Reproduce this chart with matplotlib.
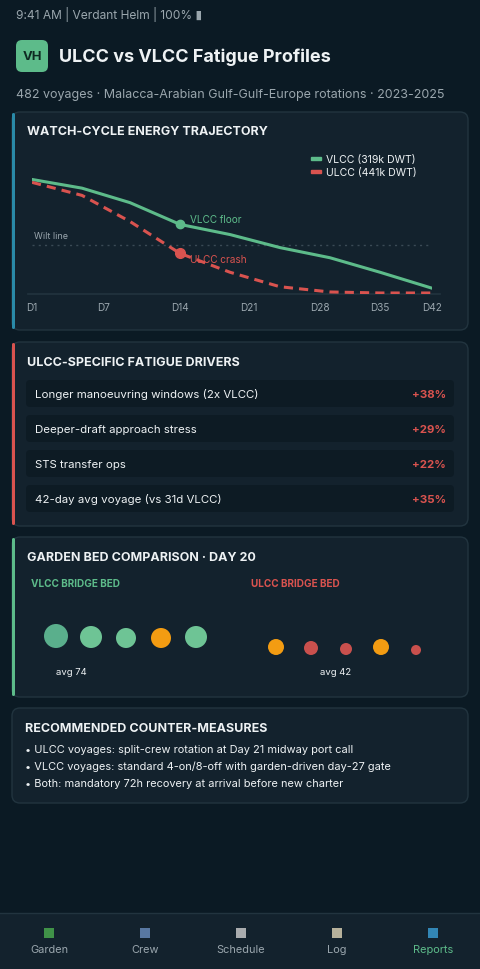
import matplotlib
matplotlib.use("Agg")
import matplotlib.pyplot as plt
from matplotlib.patches import FancyBboxPatch, Rectangle, Circle

plt.rcParams['font.family'] = ['Inter', 'DejaVu Sans']

# ---- data ----
tick_pos = [0, 72, 148, 217, 288, 348, 400]
tick_labels = ["D1", "D7", "D14", "D21", "D28", "D35", "D42"]
x_pts = [0, 50, 98, 148, 198, 248, 298, 348, 400]
vlcc = [79, 73, 63, 48, 41, 32, 25, 15, 4]
ulcc = [77, 68, 50, 28, 15, 5, 1.4, 0.7, 0.7]
wilt_level = 34
drivers = ["Longer manoeuvring windows (2x VLCC)", "Deeper-draft approach stress",
           "STS transfer ops", "42-day avg voyage (vs 31d VLCC)"]
driver_vals = ["+38%", "+29%", "+22%", "+35%"]
vlcc_bed_sizes = [12, 11, 10, 10, 11]
vlcc_bed_colors = ["#5aaf8c", "#6ec495", "#6ec495", "#f39c12", "#6ec495"]
ulcc_bed_sizes = [8, 7, 6, 8, 5]
ulcc_bed_colors = ["#f39c12", "#c9504d", "#c9504d", "#f39c12", "#c9504d"]
measures = ["• ULCC voyages: split-crew rotation at Day 21 midway port call",
            "• VLCC voyages: standard 4-on/8-off with garden-driven day-27 gate",
            "• Both: mandatory 72h recovery at arrival before new charter"]
nav = ["Garden", "Crew", "Schedule", "Log", "Reports"]

BG = "#0b1a24"; CARD = "#13222d"; EDGE = "#22343f"
GREEN = "#5dbb8a"; RED = "#d9534f"; WHITE = "#eef2f4"; GREY = "#9aa6ad"

W, H = 480, 970
fig = plt.figure(figsize=(4.8, 9.7), dpi=100, facecolor=BG)
ax = fig.add_axes([0, 0, 1, 1])
ax.set_xlim(0, W); ax.set_ylim(H, 0); ax.axis("off")

def pt(px):
    return px * 72 / 100

def card(y0, y1, accent=None):
    ax.add_patch(FancyBboxPatch((12, y0), 456, y1 - y0, boxstyle="round,pad=0,rounding_size=8",
                                fc=CARD, ec=EDGE, lw=1))
    if accent:
        ax.add_patch(FancyBboxPatch((12, y0 + 1), 3, y1 - y0 - 2, boxstyle="round,pad=0,rounding_size=1.5",
                                    fc=accent, ec="none"))

# status & header
ax.text(16, 15, "9:41 AM | Verdant Helm | 100% ▮", color=GREY, fontsize=pt(12), va="center")
ax.add_patch(FancyBboxPatch((16, 41), 32, 32, boxstyle="round,pad=0,rounding_size=6", fc=GREEN, ec="none"))
ax.text(32, 57, "VH", color="#0e2a22", fontsize=pt(13), weight="bold", ha="center", va="center")
ax.text(59, 57, "ULCC vs VLCC Fatigue Profiles", color=WHITE, fontsize=pt(18), weight="bold", va="center")
ax.text(16, 95, "482 voyages · Malacca-Arabian Gulf-Gulf-Europe rotations · 2023-2025", color=GREY,
        fontsize=pt(12.5), va="center")

# card 1
card(113, 331, "#2a8aa8")
ax.text(27, 132, "WATCH-CYCLE ENERGY TRAJECTORY", color=WHITE, fontsize=pt(12.5), weight="bold", va="center")
ax.add_patch(Rectangle((311, 158), 10, 3, color=GREEN))
ax.add_patch(Rectangle((311, 171), 10, 3, color=RED))
ax.text(326, 160, "VLCC (319k DWT)", color=WHITE, fontsize=pt(10.5), va="center")
ax.text(326, 173, "ULCC (441k DWT)", color=WHITE, fontsize=pt(10.5), va="center")

cax = fig.add_axes([32 / W, 1 - 295 / H, 400 / W, 145 / H])
cax.set_facecolor("none")
cax.set_xlim(0, 400); cax.set_ylim(0, 100)
for s in cax.spines.values():
    s.set_visible(False)
cax.axhline(0, color="#22343f", lw=1.2, xmin=-0.01, xmax=1.02, clip_on=False)
cax.axhline(wilt_level, color="#3a4a55", lw=1, ls=(0, (1.5, 3)))
cax.text(2, wilt_level + 3, "Wilt line", color=GREY, fontsize=pt(9), va="bottom")
cax.plot(x_pts, vlcc, color=GREEN, lw=2.2, solid_capstyle="round")
cax.plot(x_pts, ulcc, color=RED, lw=2.2, ls=(0, (3, 2)))
cax.plot(x_pts[3], vlcc[3], "o", color=GREEN, ms=6)
cax.plot(x_pts[3], ulcc[3], "o", color=RED, ms=7)
cax.text(x_pts[3] + 10, vlcc[3] + 4, "VLCC floor", color=GREEN, fontsize=pt(10), va="center")
cax.text(x_pts[3] + 10, ulcc[3] - 4, "ULCC crash", color=RED, fontsize=pt(10), va="center")
cax.set_xticks(tick_pos, tick_labels)
cax.set_yticks([])
cax.tick_params(axis="x", length=0, colors=GREY, labelsize=pt(10), pad=6)

# card 2
card(343, 527, RED)
ax.text(27, 363, "ULCC-SPECIFIC FATIGUE DRIVERS", color=WHITE, fontsize=pt(12.5), weight="bold", va="center")
for i, (d, v) in enumerate(zip(drivers, driver_vals)):
    y0 = 381 + i * 35
    ax.add_patch(FancyBboxPatch((26, y0), 428, 27, boxstyle="round,pad=0,rounding_size=4", fc="#0d1b24", ec="none"))
    ax.text(35, y0 + 14, d, color=WHITE, fontsize=pt(11.5), va="center")
    ax.text(446, y0 + 14, v, color=RED, fontsize=pt(11.5), weight="bold", va="center", ha="right")

# card 3
card(538, 698, GREEN)
ax.text(27, 558, "GARDEN BED COMPARISON · DAY 20", color=WHITE, fontsize=pt(12.5), weight="bold", va="center")
ax.text(31, 584, "VLCC BRIDGE BED", color=GREEN, fontsize=pt(10), weight="bold", va="center")
ax.text(251, 584, "ULCC BRIDGE BED", color=RED, fontsize=pt(10), weight="bold", va="center")
for i, (r, c) in enumerate(zip(vlcc_bed_sizes, vlcc_bed_colors)):
    ax.add_patch(Circle((56 + i * 35, 649 - r), r, fc=c, ec="none"))
for i, (r, c) in enumerate(zip(ulcc_bed_sizes, ulcc_bed_colors)):
    ax.add_patch(Circle((276 + i * 35, 656 - r), r, fc=c, ec="none"))
ax.text(71, 673, "avg 74", color=WHITE, fontsize=pt(9.5), ha="center", va="center")
ax.text(336, 673, "avg 42", color=WHITE, fontsize=pt(9.5), ha="center", va="center")

# card 4
card(709, 804)
ax.text(25, 729, "RECOMMENDED COUNTER-MEASURES", color=WHITE, fontsize=pt(12.5), weight="bold", va="center")
for i, m in enumerate(measures):
    ax.text(25, 750 + i * 17, m, color=WHITE, fontsize=pt(11), va="center")

# nav bar
ax.add_patch(Rectangle((0, 914), W, 56, fc=CARD, ec="none"))
ax.plot([0, W], [914, 914], color="#22343f", lw=1)
icon_colors = ["#4caf50", "#6a8fc0", "#d0d0d0", "#e0d6b8", "#3aa0d8"]
for i, n in enumerate(nav):
    x = 49 + i * 96
    ax.add_patch(Rectangle((x - 5, 929), 10, 10, fc=icon_colors[i], ec="none", alpha=0.8))
    ax.text(x, 950, n, color=GREEN if n == "Reports" else GREY, fontsize=pt(11), ha="center", va="center")

fig.savefig("out.png", dpi=100, facecolor=BG)
